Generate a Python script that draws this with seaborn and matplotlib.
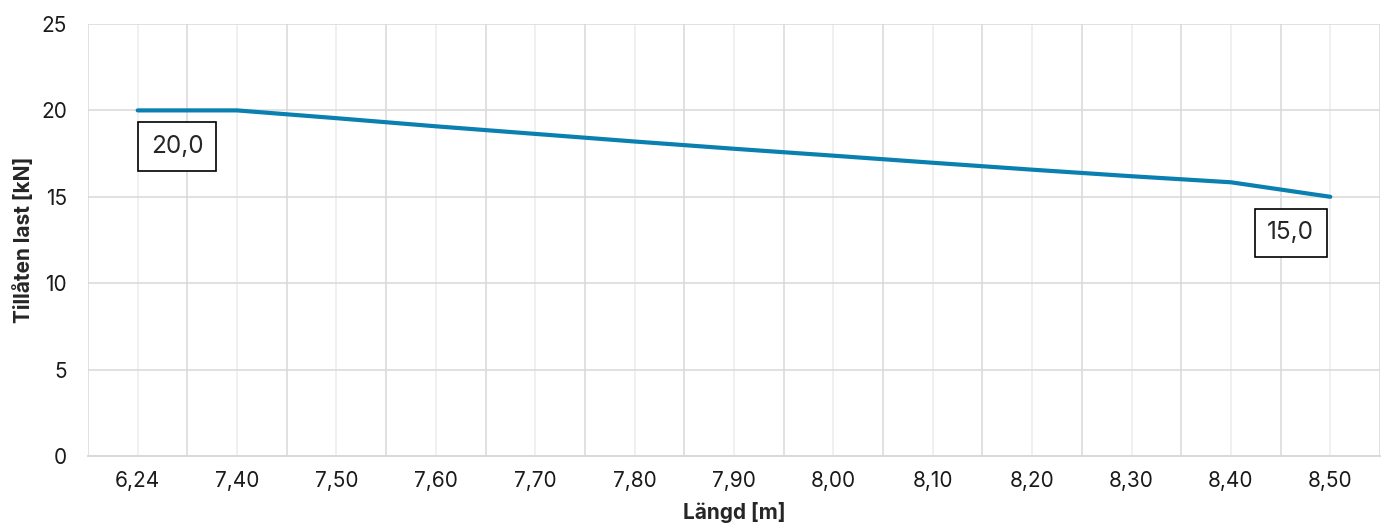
"""
Tillåten last vs längd — line chart with end labels.
"""

import matplotlib
matplotlib.use("Agg")
import matplotlib.pyplot as plt
import numpy as np
import pandas as pd
import seaborn as sns

# data
lengths = ["6,24", "7,40", "7,50", "7,60", "7,70", "7,80", "7,90",
           "8,00", "8,10", "8,20", "8,30", "8,40", "8,50"]
loads = [20.0, 20.0, 19.55, 19.08, 18.64, 18.2, 17.78,
         17.38, 16.97, 16.57, 16.19, 15.84, 15.0]
y_ticks = [0, 5, 10, 15, 20, 25]

LINE_COLOR = "#0a80b1"
GRID_DARK = "#d9d9d9"
GRID_LIGHT = "#ececec"

sns.set_theme(style="white")
plt.rcParams["font.family"] = ["Inter", "DejaVu Sans"]

df = pd.DataFrame({"Längd": lengths, "Last": loads})

fig = plt.figure(figsize=(13.93, 5.30), dpi=100)
ax = fig.add_axes([88 / 1393, 1 - 456 / 530, (1380 - 88) / 1393, (456 - 24) / 530])

sns.lineplot(data=df, x="Längd", y="Last", ax=ax, color=LINE_COLOR,
             linewidth=3.0, solid_capstyle="round", zorder=3)

n = len(lengths)
ax.set_xlim(-0.5, n - 0.5)
ax.set_ylim(0, 25)
ax.set_yticks(y_ticks)
ax.set_xticks(np.arange(n))
ax.set_xticklabels(lengths)
ax.set_xticks(np.arange(-0.5, n), minor=True)

# grid: light lines on categories, darker lines between them
ax.grid(axis="y", which="major", color=GRID_DARK, linewidth=1.1, zorder=0)
ax.grid(axis="x", which="major", color=GRID_LIGHT, linewidth=1.1, zorder=0)
ax.grid(axis="x", which="minor", color=GRID_DARK, linewidth=1.1, zorder=0)
ax.set_axisbelow(True)

for side in ["top", "right", "left"]:
    ax.spines[side].set_visible(False)
ax.spines["bottom"].set_color(GRID_DARK)
ax.spines["bottom"].set_linewidth(1.4)

ax.tick_params(axis="both", which="both", length=0, labelsize=15, colors="#1a1a1a")
ax.tick_params(axis="x", pad=11)
ax.tick_params(axis="y", pad=15)

ax.set_xlabel("Längd [m]", fontsize=15, fontweight="bold", labelpad=8)
ax.set_ylabel("Tillåten last [kN]", fontsize=15, fontweight="bold", labelpad=5)

# data labels at the first and last point
box = dict(boxstyle="square,pad=0.52", facecolor="white", edgecolor="black", linewidth=1.2)
ax.annotate(f"{loads[0]:.1f}".replace(".", ","), xy=(0, loads[0]),
            xytext=(39.5, -36), textcoords="offset pixels",
            ha="center", va="center", fontsize=17.5, bbox=box, zorder=4)
ax.annotate(f"{loads[-1]:.1f}".replace(".", ","), xy=(n - 1, loads[-1]),
            xytext=(-39.5, -36), textcoords="offset pixels",
            ha="center", va="center", fontsize=17.5, bbox=box, zorder=4)

fig.savefig("out.png", dpi=100)
plt.close(fig)
